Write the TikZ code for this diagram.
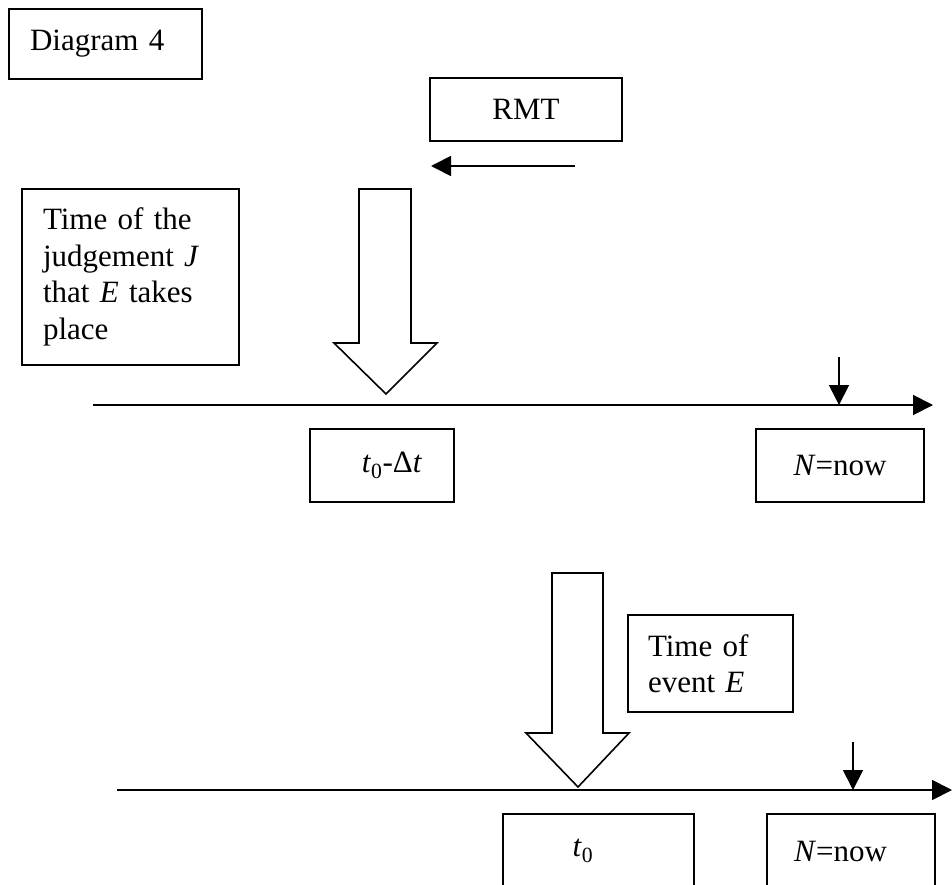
\documentclass[tikz,border=0pt]{standalone}
\usepackage{fontspec}
\setmainfont{Liberation Serif}
\usetikzlibrary{arrows.meta}
\tikzset{
  txtbox/.style={draw,line width=1.8pt,inner sep=0pt,outer sep=0pt,anchor=north west},
  leftbox/.style={txtbox,align=left,inner xsep=20pt,inner ysep=19pt},
  hollow/.style={draw,line width=1.6pt,fill=white},
  axis/.style={->,line width=1.8pt}
}
\begin{document}
\begin{tikzpicture}[line cap=butt,line join=miter,>={Triangle[length=20pt,width=20pt]},x=1pt,y=-1pt,font=\fontsize{31}{36.5}\selectfont]
\useasboundingbox (0,0) rectangle (952,885);
\clip (0,0) rectangle (952,885);
\node[txtbox,align=left,inner xsep=21pt,text width=151pt,minimum height=70pt] (title) at (9,9) {Diagram 4};
\node[txtbox,minimum width=192pt,minimum height=63pt] (rmt) at (430,78) {RMT};
\node[leftbox,inner xsep=21pt,text width=175pt] (judge) at (22,189) {Time of the\\judgement \textit{J}\\that \textit{E} takes\\place};
\node[txtbox,minimum width=144pt,minimum height=73pt] (tdelta) at (310,429) {\hspace*{20pt}\textit{t}\textsubscript{0}-Δ\textit{t}};
\node[txtbox,minimum width=168pt,minimum height=73pt] (now1) at (756,429) {\textit{N}=now};
\node[leftbox,text width=125pt,minimum height=97pt] (event) at (628,615) {Time of\\event \textit{E}};
\node[txtbox,minimum width=191pt,minimum height=74pt] (tzero) at (503,814) {\textit{t}\textsubscript{0}\hspace*{31pt}};
\node[txtbox,minimum width=168pt,minimum height=74pt] (now2) at (767,814) {\textit{N}=now\hspace*{21pt}};
\coordinate (rmtR) at (575,166);
\coordinate (rmtL) at (431,166);
\draw[axis] (rmtR) -- (rmtL);
\draw[hollow] (359,189) -- (411,189) -- (411,343) -- (437,343) -- (386,394) -- (334,343) -- (359,343) -- cycle;
\coordinate (ax1L) at (93,405);
\coordinate (ax1R) at (933,405);
\draw[axis] (ax1L) -- (ax1R);
\coordinate (n1top) at (839,357);
\coordinate (n1bot) at (839,405);
\draw[axis] (n1top) -- (n1bot);
\draw[hollow] (552,573) -- (603,573) -- (603,733) -- (629,733) -- (578,787) -- (526,733) -- (552,733) -- cycle;
\coordinate (ax2L) at (117,790);
\coordinate (ax2R) at (952,790);
\draw[axis] (ax2L) -- (ax2R);
\coordinate (n2top) at (853,742);
\coordinate (n2bot) at (853,790);
\draw[axis] (n2top) -- (n2bot);
\end{tikzpicture}
\end{document}
